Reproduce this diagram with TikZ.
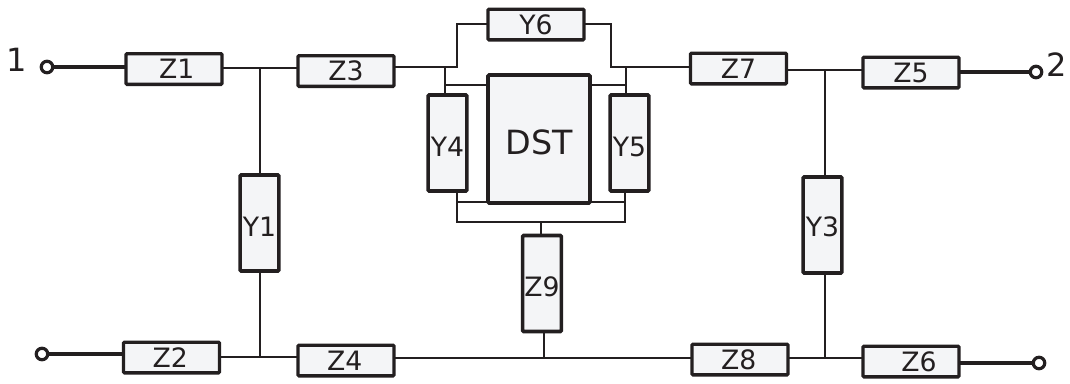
\documentclass[tikz,border=0pt]{standalone}
\usepackage{fontspec}
\setmainfont{DejaVu Sans}
\definecolor{ink}{HTML}{231F20}
\definecolor{boxfill}{HTML}{F4F5F7}
\tikzset{
  part/.style={draw=ink,fill=boxfill,line width=2.5pt,rounded corners=0.8pt,inner sep=0pt,outer sep=0pt,text=ink,font=\fontsize{20}{22}\selectfont},
  hbox/.style={part,minimum width=72pt,minimum height=23pt},
  vbox/.style={part,line width=2.7pt,minimum width=29pt,minimum height=72pt},
  wire/.style={draw=ink,line width=1.5pt},
  lead/.style={draw=ink,line width=2.4pt},
  term/.style={circle,draw=ink,line width=2.4pt,fill=white,minimum size=8.6pt,inner sep=0pt},
  lab/.style={text=ink,font=\fontsize{24}{26}\selectfont,inner sep=0pt}
}
\newcommand{\dropped}[2]{\raisebox{-#1pt}[0pt][0pt]{#2}}
\begin{document}
\begin{tikzpicture}[x=0.75pt,y=-0.75pt]
\useasboundingbox (0,0) rectangle (1070,383);
\coordinate (ja) at (260,67.5);
\coordinate (jb) at (260,357);
\coordinate (jc) at (445,67);
\coordinate (jd) at (457,67);
\coordinate (je) at (611,67);
\coordinate (jf) at (626,67);
\coordinate (jg) at (825,70);
\coordinate (jh) at (825,358);
\coordinate (ji) at (541,222);
\coordinate (jj) at (544,357.5);
\coordinate (jk) at (457,222);
\coordinate (jl) at (625,222);
\coordinate (jm) at (457,24);
\coordinate (jn) at (611,24);
\coordinate (jo) at (445,85);
\coordinate (jp) at (626,85);
\coordinate (jq) at (457,202);
\coordinate (jr) at (625,202);
% boxes
\node[hbox] (Z1) at (174,69) {\hspace*{4pt}Z1};
\node[hbox] (Z3) at (346,71) {Z3};
\node[hbox] (Z2) at (171.5,357.5) {Z2\hspace*{2pt}};
\node[hbox] (Z4) at (346,360.5) {Z4\hspace*{2pt}};
\node[hbox] (Z8) at (740,359.5) {Z8\hspace*{2pt}};
\node[hbox] (Z6) at (911,361.5) {\hspace*{12pt}Z6};
\node[hbox] (Z7) at (738.5,68.5) {Z7};
\node[hbox] (Z5) at (911,72.5) {Z5};
\node[hbox] (Y6) at (536,24.5) {Y6};
\node[vbox] (Y1) at (259.5,223) {\dropped{10.3}{Y1}};
\node[vbox] (Y3) at (822.5,225) {\dropped{8.8}{Y3}};
\node[vbox] (Y4) at (447.5,143) {\dropped{10.3}{Y4}};
\node[vbox] (Y5) at (629.5,143) {\dropped{10.3}{Y5}};
\node[vbox] (Z9) at (542,283.5) {\dropped{10}{Z9}};
\node[part,line width=2.7pt,minimum width=76.5pt,minimum height=96pt,font=\fontsize{25}{27}\selectfont] (DST) at (539,139) {\dropped{11.9}{DST}};
\node[term] (T1) at (47,67) {};
\node[term] (T2) at (42,354) {};
\node[term] (T3) at (1036,72) {};
\node[term] (T4) at (1039,363) {};
\node[lab] (L1) at (16.5,60) {1};
\node[lab] (L2) at (1057,65) {2};
% connectors
\draw[wire] (Z1.east |- ja) -- (Z3.west |- ja);
\draw[wire] (ja) -- (Y1.north -| ja);
\draw[wire] (Y1.south -| jb) -- (jb);
\draw[wire] (Z2.east |- jb) -- (Z4.west |- jb);
\draw[wire] (Z3.east |- jd) -- (jd) -- (jm) -- (Y6.west |- jm);
\draw[wire] (Y6.east |- jn) -- (jn) -- (je) -- (Z7.west |- je);
\draw[wire] (jc) -- (Y4.north -| jc);
\draw[wire] (jf) -- (Y5.north -| jf);
\draw[wire] (jo) -- (DST.west |- jo);
\draw[wire] (DST.east |- jp) -- (jp);
\draw[wire] (Y4.south -| jk) -- (jk) -- (jl) -- (Y5.south -| jl);
\draw[wire] (jq) -- (DST.west |- jq);
\draw[wire] (DST.east |- jr) -- (jr);
\draw[wire] (ji) -- (Z9.north -| ji);
\draw[wire] (Z9.south -| jj) -- (jj);
\draw[wire] (Z4.east |- jj) -- (Z8.west |- jj);
\draw[wire] (Z7.east |- jg) -- (Z5.west |- jg);
\draw[wire] (jg) -- (Y3.north -| jg);
\draw[wire] (Y3.south -| jh) -- (jh);
\draw[wire] (Z8.east |- jh) -- (Z6.west |- jh);
\draw[lead] (T1) -- (Z1.west |- T1);
\draw[lead] (T2) -- (Z2.west |- T2);
\draw[lead] (Z5.east |- T3) -- (T3);
\draw[lead] (Z6.east |- T4) -- (T4);
\end{tikzpicture}
\end{document}
